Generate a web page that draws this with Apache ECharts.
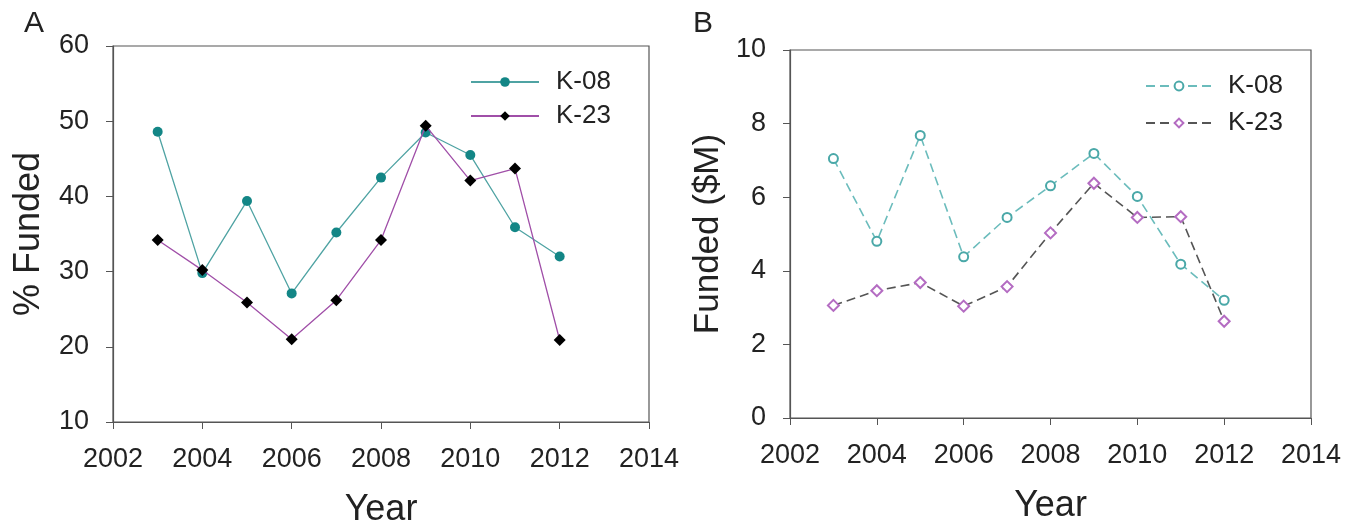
<!DOCTYPE html>
<html>
<head>
<meta charset="utf-8">
<script src="https://cdn.jsdelivr.net/npm/echarts@6/dist/echarts.min.js"></script>
<style>
    html, body { margin: 0; padding: 0; background: #fff; }
    #chart { width: 1362px; height: 527px; }
</style>
</head>
<body>
<div id="chart"></div>
<script>
// data
let years = [2003, 2004, 2005, 2006, 2007, 2008, 2009, 2010, 2011, 2012];
let pctK08 = [48.6, 29.8, 39.4, 27.1, 35.2, 42.5, 48.5, 45.5, 35.9, 32.0];
let pctK23 = [34.2, 30.2, 25.9, 21.0, 26.2, 34.2, 49.4, 42.1, 43.7, 20.9];
let usdK08 = [7.05, 4.8, 7.68, 4.38, 5.45, 6.31, 7.19, 6.02, 4.18, 3.2];
let usdK23 = [3.06, 3.46, 3.68, 3.04, 3.57, 5.03, 6.38, 5.45, 5.47, 2.63];
let xTicks = [2002, 2004, 2006, 2008, 2010, 2012, 2014];

let font = "'Liberation Sans', Arial, sans-serif";
let axisColor = '#555';

let toPairs = (xs, ys) => xs.map((x, i) => [x, ys[i]]);

let makeX = (gridIndex) => ({
    type: 'value',
    gridIndex: gridIndex,
    min: xTicks[0],
    max: xTicks[xTicks.length - 1],
    interval: 2,
    name: 'Year',
    nameLocation: 'middle',
    nameGap: 70,
    nameTextStyle: { fontFamily: font, fontSize: 36, color: '#222' },
    axisLine: { show: true, lineStyle: { color: axisColor, width: 1.2 } },
    axisTick: { show: true, inside: false, length: 7, lineStyle: { color: axisColor } },
    axisLabel: { fontFamily: font, fontSize: 27, color: '#222', margin: 24, formatter: (v) => String(v) },
    splitLine: { show: false }
});

let makeY = (gridIndex, min, max, interval, name, gap, nameSize) => ({
    type: 'value',
    gridIndex: gridIndex,
    min: min,
    max: max,
    interval: interval,
    name: name,
    nameLocation: 'middle',
    nameGap: gap,
    nameTextStyle: { fontFamily: font, fontSize: nameSize, color: '#222' },
    axisLine: { show: true, lineStyle: { color: axisColor, width: 1.2 } },
    axisTick: { show: true, inside: false, length: 7, lineStyle: { color: axisColor } },
    axisLabel: { fontFamily: font, fontSize: 27, color: '#222', margin: 24 },
    splitLine: { show: false }
});

let myChart = echarts.init(document.getElementById('chart'));
let option = {
    animation: false,
    backgroundColor: '#fff',
    title: [
        { text: 'A', left: 19, top: 4, textStyle: { fontFamily: font, fontSize: 30, fontWeight: 'normal', color: '#222' } },
        { text: 'B', left: 688, top: 4, textStyle: { fontFamily: font, fontSize: 30, fontWeight: 'normal', color: '#222' } }
    ],
    grid: [
        { left: 113, top: 46, width: 536, height: 376, show: true, borderColor: axisColor, borderWidth: 1.2, outerBoundsMode: 'none', containLabel: false },
        { left: 790, top: 50, width: 521, height: 368, show: true, borderColor: axisColor, borderWidth: 1.2, outerBoundsMode: 'none', containLabel: false }
    ],
    legend: [
        {
            data: ['K-08', 'K-23'],
            orient: 'vertical',
            left: 465,
            top: 63,
            itemWidth: 68,
            itemHeight: 12,
            itemGap: 6,
            textStyle: { fontFamily: font, fontSize: 26, color: '#222', lineHeight: 28, padding: [0, 0, 0, 12] }
        },
        {
            data: ['K-08 (B)', 'K-23 (B)'],
            orient: 'vertical',
            left: 1140,
            top: 67,
            itemWidth: 66,
            itemHeight: 11,
            itemGap: 9,
            formatter: (name) => name.replace(' (B)', ''),
            textStyle: { fontFamily: font, fontSize: 26, color: '#222', lineHeight: 28, padding: [0, 0, 0, 11] }
        }
    ],
    xAxis: [makeX(0), makeX(1)],
    yAxis: [
        makeY(0, 10, 60, 10, '% Funded', 66, 36),
        makeY(1, 0, 10, 2, 'Funded ($M)', 64, 35)
    ],
    series: [
        {
            name: 'K-08', type: 'line', xAxisIndex: 0, yAxisIndex: 0,
            data: toPairs(years, pctK08),
            symbol: 'circle', symbolSize: 10,
            itemStyle: { color: '#138686' },
            lineStyle: { color: '#4fa3a3', width: 1.3 },
            z: 2
        },
        {
            name: 'K-23', type: 'line', xAxisIndex: 0, yAxisIndex: 0,
            data: toPairs(years, pctK23),
            symbol: 'diamond', symbolSize: 12,
            itemStyle: { color: '#000' },
            lineStyle: { color: '#a04fa8', width: 1.3 },
            z: 3
        },
        {
            name: 'K-08 (B)', type: 'line', xAxisIndex: 1, yAxisIndex: 1,
            data: toPairs(years, usdK08),
            symbol: 'emptyCircle', symbolSize: 9,
            itemStyle: { color: '#4aa8a8', borderWidth: 1.5 },
            lineStyle: { color: '#6bbcbc', width: 1.6, type: [9, 5] },
            z: 2
        },
        {
            name: 'K-23 (B)', type: 'line', xAxisIndex: 1, yAxisIndex: 1,
            data: toPairs(years, usdK23),
            symbol: 'emptyDiamond', symbolSize: 11,
            itemStyle: { color: '#b46cc2', borderWidth: 1.5 },
            lineStyle: { color: '#555', width: 1.6, type: [9, 5] },
            z: 3
        }
    ]
};
myChart.setOption(option);
</script>
</body>
</html>
